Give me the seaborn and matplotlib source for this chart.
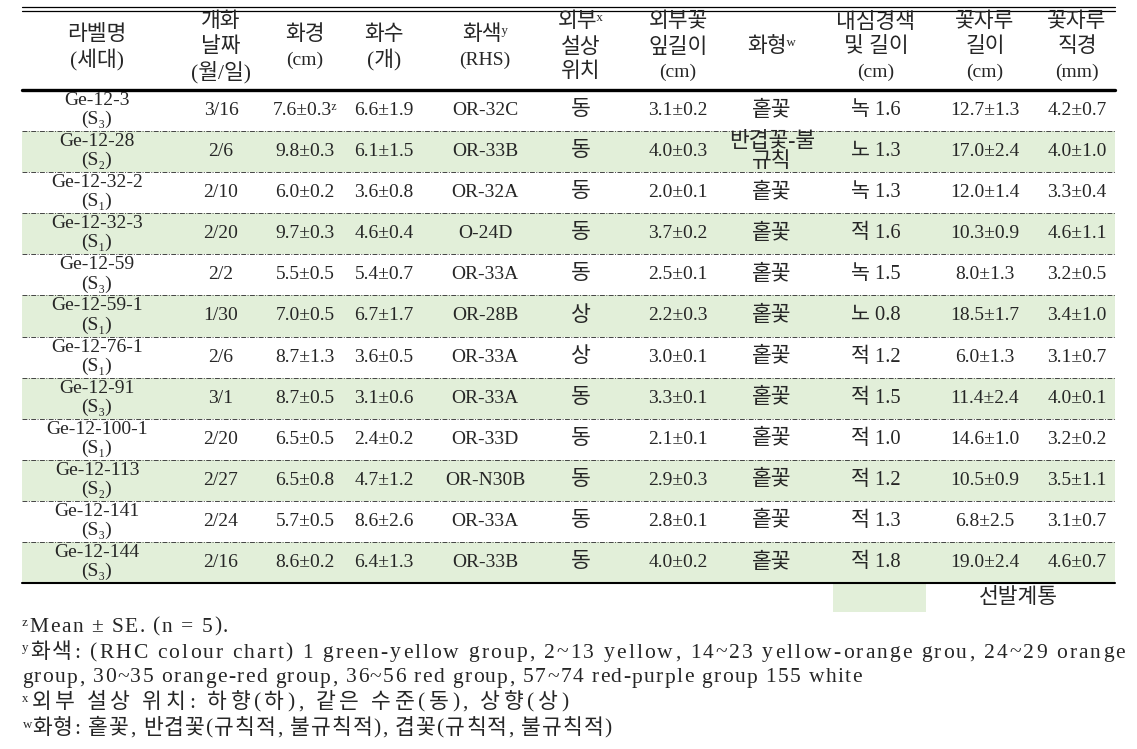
import re
import matplotlib
matplotlib.use("Agg")
import matplotlib.pyplot as plt
from matplotlib.colors import ListedColormap
from matplotlib.patches import Rectangle
import seaborn as sns
import pandas as pd

# table data
labels = ['Ge-12-3', 'Ge-12-28', 'Ge-12-32-2', 'Ge-12-32-3', 'Ge-12-59', 'Ge-12-59-1',
          'Ge-12-76-1', 'Ge-12-91', 'Ge-12-100-1', 'Ge-12-113', 'Ge-12-141', 'Ge-12-144']
generations = ['(S₃)', '(S₂)', '(S₁)', '(S₁)', '(S₃)', '(S₁)',
               '(S₁)', '(S₃)', '(S₁)', '(S₂)', '(S₃)', '(S₃)']
dates = ['3/16', '2/6', '2/10', '2/20', '2/2', '1/30', '2/6', '3/1', '2/20', '2/27', '2/24', '2/16']
flower_diam = ['7.6±0.3ᶻ', '9.8±0.3', '6.0±0.2', '9.7±0.3', '5.5±0.5', '7.0±0.5',
               '8.7±1.3', '8.7±0.5', '6.5±0.5', '6.5±0.8', '5.7±0.5', '8.6±0.2']
flower_count = ['6.6±1.9', '6.1±1.5', '3.6±0.8', '4.6±0.4', '5.4±0.7', '6.7±1.7',
                '3.6±0.5', '3.1±0.6', '2.4±0.2', '4.7±1.2', '8.6±2.6', '6.4±1.3']
rhs_colour = ['OR-32C', 'OR-33B', 'OR-32A', 'O-24D', 'OR-33A', 'OR-28B',
              'OR-33A', 'OR-33A', 'OR-33D', 'OR-N30B', 'OR-33A', 'OR-33B']
ray_position = ['동', '동', '동', '동', '동', '상', '상', '동', '동', '동', '동', '동']
ray_length = ['3.1±0.2', '4.0±0.3', '2.0±0.1', '3.7±0.2', '2.5±0.1', '2.2±0.3',
              '3.0±0.1', '3.3±0.1', '2.1±0.1', '2.9±0.3', '2.8±0.1', '4.0±0.2']
flower_type = ['홑꽃', '반겹꽃-불\n규칙', '홑꽃', '홑꽃', '홑꽃', '홑꽃',
               '홑꽃', '홑꽃', '홑꽃', '홑꽃', '홑꽃', '홑꽃']
disc_colour = ['녹 1.6', '노 1.3', '녹 1.3', '적 1.6', '녹 1.5', '노 0.8',
               '적 1.2', '적 1.5', '적 1.0', '적 1.2', '적 1.3', '적 1.8']
pedicel_len = ['12.7±1.3', '17.0±2.4', '12.0±1.4', '10.3±0.9', '8.0±1.3', '18.5±1.7',
               '6.0±1.3', '11.4±2.4', '14.6±1.0', '10.5±0.9', '6.8±2.5', '19.0±2.4']
pedicel_dia = ['4.2±0.7', '4.0±1.0', '3.3±0.4', '4.6±1.1', '3.2±0.5', '3.4±1.0',
               '3.1±0.7', '4.0±0.1', '3.2±0.2', '3.5±1.1', '3.1±0.7', '4.6±0.7']
selected = [0, 1, 0, 1, 0, 1, 0, 1, 0, 1, 0, 1]   # 선발계통

headers = [['라벨명', '(세대)'], ['개화', '날짜', '(월/일)'], ['화경', '(cm)'], ['화수', '(개)'],
           ['화색ʸ', '(RHS)'], ['외부ˣ', '설상', '위치'], ['외부꽃', '잎길이', '(cm)'], ['화형ʷ'],
           ['내심경색', '및 길이', '(cm)'], ['꽃자루', '길이', '(cm)'], ['꽃자루', '직경', '(mm)']]

footnotes = ['ᶻMean ± SE. (n = 5).',
             'ʸ화색: (RHC colour chart) 1 green-yellow group, 2~13 yellow, 14~23 yellow-orange grou, 24~29 orange',
             'group, 30~35 orange-red group, 36~56 red group, 57~74 red-purple group 155 white',
             'ˣ외부 설상 위치: 하향(하), 같은 수준(동), 상향(상)',
             'ʷ화형: 홑꽃, 반겹꽃(규칙적, 불규칙적), 겹꽃(규칙적, 불규칙적)']

GREEN = '#E2EFD9'
W, H = 1137, 749
LEFT, RIGHT = 22, 1115
TOP_BODY, BOTTOM_BODY = 90, 583


def fsize(s):
    # Hangul glyphs in the reference are wider than Noto's, so bump them a bit
    hangul = re.search('[\uac00-\ud7a3]', s) is not None
    latin = re.search('[A-Za-z0-9]', s) is not None
    if hangul and not latin:
        return 15.5
    if hangul:
        return 14.8
    return 14


sns.set_theme(style='white')
plt.rcParams['font.family'] = ['Liberation Serif', 'DejaVu Serif', 'DejaVu Sans', 'Noto Sans CJK KR']

fig = plt.figure(figsize=(W / 100, H / 100), dpi=100)

# row shading via seaborn heatmap
ax_bg = fig.add_axes([LEFT / W, 1 - BOTTOM_BODY / H, (RIGHT - LEFT) / W, (BOTTOM_BODY - TOP_BODY) / H])
sns.heatmap(pd.DataFrame({'sel': selected}), ax=ax_bg, cmap=ListedColormap(['white', GREEN]),
            vmin=0, vmax=1, cbar=False, xticklabels=False, yticklabels=False, linewidths=0)
ax_bg.set_axis_off()

ax = fig.add_axes([0, 0, 1, 1])
ax.set_xlim(0, W)
ax.set_ylim(H, 0)
ax.axis('off')
ax.patch.set_alpha(0)

col_x = [97, 221, 305, 384, 485, 581, 678, 772, 876, 985, 1077]

# rules
ax.plot([LEFT, RIGHT], [7, 7], color='black', lw=0.9)
ax.plot([LEFT, RIGHT], [10.5, 10.5], color='black', lw=0.9)
ax.plot([LEFT, RIGHT], [TOP_BODY, TOP_BODY], color='black', lw=2.4)
ax.plot([LEFT, RIGHT], [BOTTOM_BODY, BOTTOM_BODY], color='black', lw=1.5)

n = len(labels)
rh = (BOTTOM_BODY - TOP_BODY) / n
for k in range(1, n):
    y = TOP_BODY + k * rh
    ax.plot([LEFT, RIGHT], [y, y], color='#444444', lw=0.7, ls=(0, (5, 1.5, 1, 1.5)))

# header
for x, lines in zip(col_x, headers):
    m = len(lines)
    for j, s in enumerate(lines):
        y = 47.5 + (j - (m - 1) / 2) * 25
        ax.text(x, y, s, ha='center', va='center', fontsize=fsize(s))

# body
columns = [dates, flower_diam, flower_count, rhs_colour, ray_position, ray_length,
           flower_type, disc_colour, pedicel_len, pedicel_dia]
for i in range(n):
    yc = TOP_BODY + (i + 0.5) * rh
    ax.text(col_x[0], yc - 10, labels[i], ha='center', va='center', fontsize=14)
    ax.text(col_x[0], yc + 9, generations[i], ha='center', va='center', fontsize=14)
    for x, col in zip(col_x[1:], columns):
        s = col[i]
        if '\n' in s:
            a, b = s.split('\n')
            ax.text(x, yc - 10, a, ha='center', va='center', fontsize=fsize(a))
            ax.text(x, yc + 10, b, ha='center', va='center', fontsize=fsize(b))
        else:
            ax.text(x, yc, s, ha='center', va='center', fontsize=fsize(s))

# legend
ax.add_patch(Rectangle((833, 584), 93, 28, facecolor=GREEN, edgecolor='none'))
ax.text(1018, 598, '선발계통', ha='center', va='center', fontsize=15.5)

# footnotes: letter-spaced out to the reference line lengths
FN = 15.5
foot_y = [627, 653, 678, 703, 729]
foot_end = [228, 1125, 862, 568, 612]
renderer = fig.canvas.get_renderer()


def text_width(s):
    t = ax.text(0, 0, s, fontsize=FN)
    w = t.get_window_extent(renderer).width
    t.remove()
    return w


space_w = text_width('x x') - text_width('xx')
for y, x_end, s in zip(foot_y, foot_end, footnotes):
    chars = list(s)
    texts, widths = [], []
    for c in chars:
        if c == ' ':
            texts.append(None)
            widths.append(space_w)
        else:
            t = ax.text(0, y, c, ha='left', va='center', fontsize=FN)
            texts.append(t)
            widths.append(t.get_window_extent(renderer).width)
    last_w = widths[-1]
    extra = (x_end - LEFT - sum(widths)) / (len(chars) - 1)
    x = LEFT
    for t, w in zip(texts, widths):
        if t is not None:
            t.set_x(x)
        x += w + extra

fig.savefig('out.png', dpi=100)
